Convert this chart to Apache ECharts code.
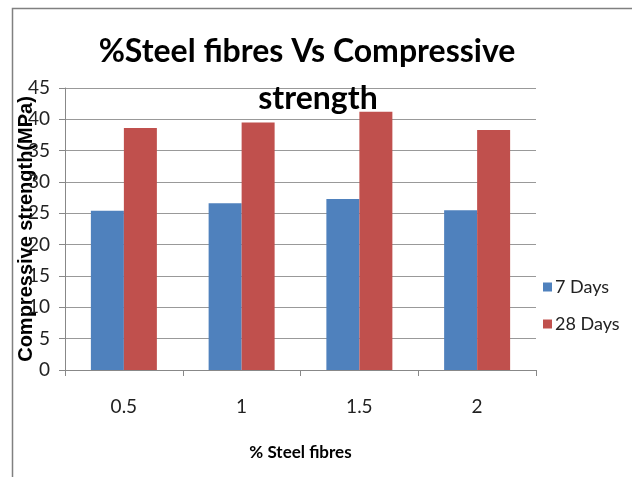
<!DOCTYPE html>
<html>
<head>
<meta charset="utf-8">
<script src="https://cdn.jsdelivr.net/npm/echarts@6/dist/echarts.min.js"></script>
<style>
html,body{margin:0;padding:0;background:#fff;}
#chart{width:632px;height:477px;}
</style>
</head>
<body>
<div id="chart"></div>
<script>
const categories = ['0.5', '1', '1.5', '2'];
const days7 = [25.4, 26.6, 27.3, 25.5];
const days28 = [38.6, 39.5, 41.2, 38.3];
const seriesNames = ['7 Days', '28 Days'];
const titleLine1 = '%Steel fibres Vs Compressive';
const titleLine2 = 'strength';
const yAxisName = 'Compressive strength(MPa)';
const xAxisName = '% Steel fibres';

const font = 'Lato, "Liberation Sans", sans-serif';
const chart = echarts.init(document.getElementById('chart'));
chart.setOption({
  animation: false,
  backgroundColor: '#fff',
  graphic: [{
    type: 'rect', left: 10, top: 6, z: -1,
    shape: { width: 700, height: 600 },
    style: { fill: 'none', stroke: '#808080', lineWidth: 1.5 }
  }],
  title: [
    { text: titleLine1, left: 302, textAlign: 'center', top: 31,
      textStyle: { fontFamily: font, fontSize: 32, fontWeight: 'bold', color: '#000' } },
    { text: titleLine2, left: 313, textAlign: 'center', top: 78,
      textStyle: { fontFamily: font, fontSize: 32, fontWeight: 'bold', color: '#000' } }
  ],
  legend: {
    orient: 'vertical', left: 538, top: 273,
    itemWidth: 9, itemHeight: 9, itemGap: 19,
    icon: 'rect',
    textStyle: { fontFamily: font, fontSize: 18, color: '#222', padding: [0, 0, 0, -2] },
    data: seriesNames
  },
  grid: { left: 65, right: 96, top: 88, bottom: 107, containLabel: false, outerBoundsMode: 'none' },
  xAxis: {
    type: 'category', data: categories,
    name: xAxisName, nameLocation: 'middle', nameGap: 74,
    nameTextStyle: { fontFamily: font, fontSize: 17, fontWeight: 'bold', color: '#000' },
    axisLine: { lineStyle: { color: '#888' } },
    axisTick: { show: true, length: 6, lineStyle: { color: '#888' } },
    axisLabel: { fontFamily: font, fontSize: 19, color: '#222', margin: 27 }
  },
  yAxis: {
    type: 'value', min: 0, max: 45, interval: 5,
    name: yAxisName, nameLocation: 'middle', nameGap: 29, nameMoveOverlap: false,
    nameTextStyle: { fontFamily: '"Liberation Sans", sans-serif', fontSize: 20, fontWeight: 'bold', color: '#000' },
    axisLine: { show: true, lineStyle: { color: '#888' } },
    axisTick: { show: true, length: 6, lineStyle: { color: '#888' } },
    axisLabel: { fontFamily: font, fontSize: 19, color: '#222', margin: 15 },
    splitLine: { lineStyle: { color: '#999' } }
  },
  series: [
    { name: seriesNames[0], type: 'bar', data: days7, barWidth: 33, barGap: '0%',
      itemStyle: { color: '#4F81BD' } },
    { name: seriesNames[1], type: 'bar', data: days28, barWidth: 33,
      itemStyle: { color: '#C0504D' } }
  ]
});
</script>
</body>
</html>
